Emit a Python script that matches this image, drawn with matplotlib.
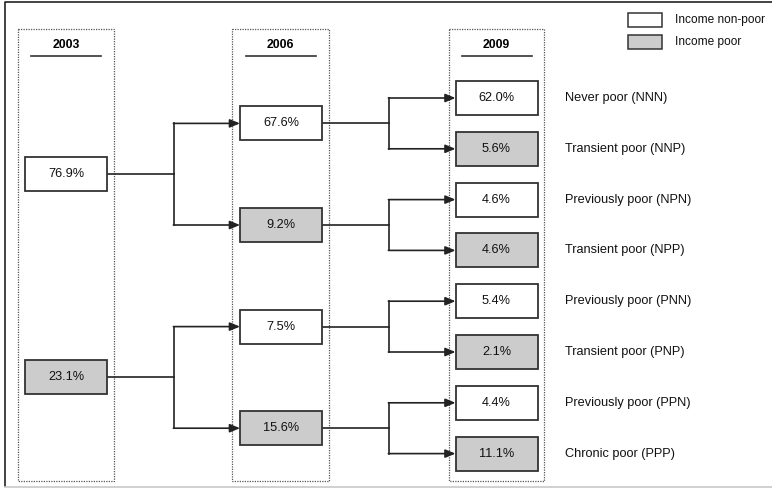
import numpy as np
import matplotlib.pyplot as plt
from matplotlib.patches import Rectangle

plt.rcParams['font.family'] = ['Liberation Sans', 'DejaVu Sans']

years = ['2003', '2006', '2009']
vals_2003 = [76.9, 23.1]
vals_2006 = [67.6, 9.2, 7.5, 15.6]
vals_2009 = [62.0, 5.6, 4.6, 4.6, 5.4, 2.1, 4.4, 11.1]
labels_2009 = ['Never poor (NNN)', 'Transient poor (NNP)', 'Previously poor (NPN)',
               'Transient poor (NPP)', 'Previously poor (PNN)', 'Transient poor (PNP)',
               'Previously poor (PPN)', 'Chronic poor (PPP)']
legend_labels = ['Income non-poor', 'Income poor']

white = '#ffffff'
grey = '#cccccc'
edge = '#333333'

# layout (pixel space, y downwards)
col_x = [66, 281, 496.5]       # box centres per year
col_frame = [(18, 114), (232, 329), (449, 544)]
box_w, box_h = 82, 34
y_top, step = 98, 50.8
split_x = [174, 389]
fs = 8.8

fig = plt.figure(figsize=(7.72, 4.88), dpi=100)
ax = fig.add_axes([0, 0, 1, 1])
ax.set_xlim(0, 772)
ax.set_ylim(488, 0)
ax.axis('off')

# outer frame (no right side visible)
ax.plot([5, 5, 772], [486, 2, 2], color='#222222', lw=1.2)
ax.plot([5, 772], [486.5, 486.5], color='#c8c8c8', lw=1.2)

# dotted year columns with headers
for (x0, x1), yr in zip(col_frame, years):
    ax.add_patch(Rectangle((x0, 28.5), x1 - x0, 452, fill=False, ec='#555555',
                           lw=0.9, ls=(0, (1, 1))))
    xm = (x0 + x1) / 2
    ax.text(xm, 45, yr, ha='center', va='center', fontsize=fs, fontweight='bold')
    ax.plot([xm - 35, xm + 35], [56, 56], color='#333333', lw=1.2)

# y positions of the tree
y3 = y_top + step * np.arange(len(vals_2009))
y2 = (y3[0::2] + y3[1::2]) / 2
y1 = (y2[0::2] + y2[1::2]) / 2
levels = [(vals_2003, y1), (vals_2006, y2), (vals_2009, y3)]


def draw_box(xc, yc, val, poor):
    ax.add_patch(Rectangle((xc - box_w / 2, yc - box_h / 2), box_w, box_h,
                           fc=grey if poor else white, ec=edge, lw=1.3, zorder=3))
    ax.text(xc, yc, '{:.1f}%'.format(val), ha='center', va='center',
            fontsize=9.2, color='#111111', zorder=4)


for lv, (vals, ys) in enumerate(levels):
    for i, (v, yc) in enumerate(zip(vals, ys)):
        draw_box(col_x[lv], yc, v, i % 2 == 1)

# connectors
for lv in range(2):
    parents = levels[lv][1]
    children = levels[lv + 1][1]
    x_start = col_x[lv] + box_w / 2
    x_end = col_x[lv + 1] - box_w / 2
    sx = split_x[lv]
    for i, yp in enumerate(parents):
        ya, yb = children[2 * i], children[2 * i + 1]
        ax.plot([x_start, sx], [yp, yp], color='#222222', lw=1.2)
        ax.plot([sx, sx], [ya, yb], color='#222222', lw=1.2)
        for yc in (ya, yb):
            ax.annotate('', xy=(x_end, yc), xytext=(sx - 0.6, yc),
                        arrowprops=dict(arrowstyle='-|>,head_length=0.6,head_width=0.25',
                                        color='#222222', lw=1.2, shrinkA=0, shrinkB=0))

# labels for 2009 paths
for lab, yc in zip(labels_2009, y3):
    ax.text(565, yc, lab, ha='left', va='center', fontsize=9.2, color='#111111')

# legend
for i, (lab, fc) in enumerate(zip(legend_labels, [white, grey])):
    yc = 20 + 22 * i
    ax.add_patch(Rectangle((628, yc - 7), 34, 14, fc=fc, ec=edge, lw=1.1))
    ax.text(675, yc, lab, ha='left', va='center', fontsize=8.6, color='#111111')

fig.savefig('out.png', dpi=100)
